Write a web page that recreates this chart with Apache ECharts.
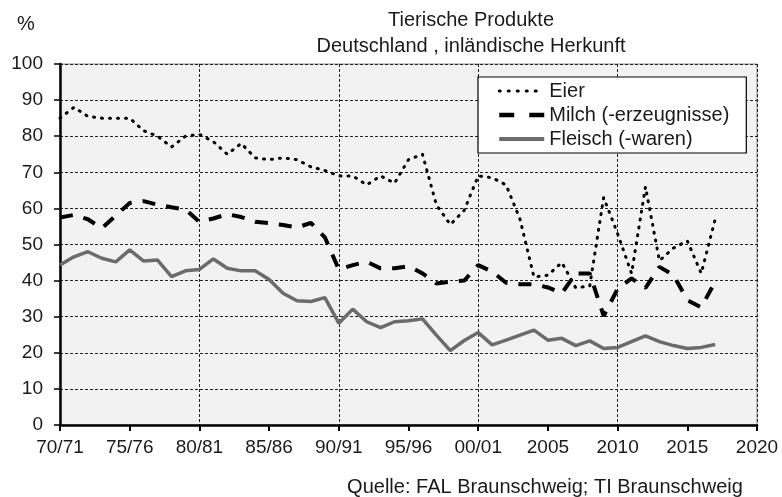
<!DOCTYPE html>
<html><head><meta charset="utf-8">
<script src="https://cdn.jsdelivr.net/npm/echarts@6/dist/echarts.min.js"></script>
<style>html,body{margin:0;padding:0;background:#fff}#c{width:782px;height:497px}</style>
</head><body><div id="c"></div>
<script>
const years = [1970,1971,1972,1973,1974,1975,1976,1977,1978,1979,
  1980,1981,1982,1983,1984,1985,1986,1987,1988,1989,
  1990,1991,1992,1993,1994,1995,1996,1997,1998,1999,
  2000,2001,2002,2003,2004,2005,2006,2007,2008,2009,
  2010,2011,2012,2013,2014,2015,2016,2017];
const eier = [85,88,85.5,85,85,85,81.5,80,77,80,
  80.5,78.5,75,78,74,73.5,74,73.5,71.5,70.5,
  69,69,66.5,69,67,73.5,75,61,55.5,59.5,
  69,68.5,66.5,57,41,41.5,45,38,38.5,63,
  53,42,66,45.5,49,51,42,57];
const milch = [57.5,58.2,57,54.5,58,61.5,62,61,60.3,59.7,
  56.3,57.2,58.4,57.6,56.3,55.9,55.4,54.7,56,52,
  43.1,44.3,45.2,43.4,43.4,44,42,39.2,39.7,40,
  44.3,42.5,39.4,39,39,38.1,36.5,42,42,30.2,
  37.7,40.6,38,43.8,41.6,34.6,32.6,39.7];
const fleisch = [44.3,46.6,48,46.2,45.2,48.5,45.4,45.7,41.1,42.7,
  43.1,46,43.4,42.7,42.7,40.3,36.5,34.4,34.2,35.3,
  28.2,32.1,28.6,27,28.6,28.9,29.4,24.9,20.6,23.4,
  25.6,22.2,23.5,24.9,26.3,23.5,24,22,23.3,21.2,
  21.5,23.1,24.7,23.1,22,21.2,21.5,22.3];
const seriesNames = ['Eier', 'Milch (-erzeugnisse)', 'Fleisch (-waren)'];
const tickYears = [1970,1975,1980,1985,1990,1995,2000,2005,2010,2015,2020];
const tickLabels = ['70/71','75/76','80/81','85/86','90/91','95/96','00/01','2005','2010','2015','2020'];
const titleLines = ['Tierische Produkte', 'Deutschland , inländische Herkunft'];
const unitLabel = '%';
const sourceText = 'Quelle: FAL Braunschweig; TI Braunschweig';

const FONT = '"Liberation Sans", Arial, sans-serif';
const TXT = '#1a1a1a';
const pairs = arr => years.map((y, i) => [y, arr[i]]);

function txt(t, x, y, size, align) {
  return {type:'text', x:x, y:y, silent:true,
    style:{text:t, font: size + 'px ' + FONT, fill:TXT,
      align: align, textAlign: align, verticalAlign:'middle', textVerticalAlign:'middle'}};
}

const styles = [
  {color:'#000', width:3, type:[1,7], cap:'round'},
  {color:'#000', width:4, type:[13,11], cap:'butt'},
  {color:'#6b6b6b', width:3.5, type:'solid', cap:'butt'}
];
const legendStyles = [
  {color:'#000', width:3, type:[1,8], cap:'round'},
  {color:'#000', width:4.5, type:[15,15], cap:'butt'},
  {color:'#6b6b6b', width:4, type:'solid', cap:'butt'}
];

const chart = echarts.init(document.getElementById('c'));
chart.setOption({
  animation:false,
  backgroundColor:'#fff',
  textStyle:{fontFamily:FONT},
  grid:{left:60, right:25, top:64, bottom:72, show:true, backgroundColor:'#f2f2f2', borderColor:'#8a8a8a', borderWidth:1},
  graphic:[
    txt(unitLabel, 26, 24, 20, 'center'),
    txt(titleLines[0], 471, 20, 20, 'center'),
    txt(titleLines[1], 471, 46, 20, 'center'),
    txt(sourceText, 545, 487, 20, 'center')
  ],
  legend:{
    orient:'vertical', left:478, top:77,
    padding:[4,17,4,19], itemGap:4, itemWidth:45, itemHeight:14,
    backgroundColor:'#fff', borderColor:'#000', borderWidth:1.2, borderRadius:0,
    itemStyle:{opacity:0},
    textStyle:{fontSize:20, color:TXT, fontFamily:FONT},
    data: seriesNames.map((n, i) => ({name:n, lineStyle:legendStyles[i]}))
  },
  xAxis:[{
    type:'value', min:1970, max:2020, interval:5,
    axisLine:{show:true, onZero:false, lineStyle:{color:'#000', width:2.5}},
    axisTick:{show:true, length:6, lineStyle:{color:'#000', width:2}},
    axisLabel:{fontSize:19, color:TXT, margin:13, fontFamily:FONT,
      formatter: v => { const i = tickYears.indexOf(v); return i >= 0 ? tickLabels[i] : ''; }},
    splitLine:{show:false}
  },{
    type:'value', min:1970, max:2020, interval:10, position:'top',
    axisLine:{show:false}, axisTick:{show:false}, axisLabel:{show:false},
    splitLine:{show:true, lineStyle:{color:'#222', width:1, type:[3,2]}}
  }],
  yAxis:{
    type:'value', min:0, max:100, interval:10,
    axisLine:{show:true, lineStyle:{color:'#000', width:2.5}},
    axisTick:{show:true, length:6, lineStyle:{color:'#000', width:1.5}},
    axisLabel:{fontSize:19, color:TXT, margin:17, fontFamily:FONT},
    splitLine:{show:true, lineStyle:{color:'#222', width:1, type:[3,2]}}
  },
  series:[
    {name:seriesNames[0], type:'line', data:pairs(eier), symbol:'none', z:3,
      lineStyle:styles[0], itemStyle:{color:'#000'}},
    {name:seriesNames[1], type:'line', data:pairs(milch), symbol:'none', z:4,
      lineStyle:styles[1], itemStyle:{color:'#000'}},
    {name:seriesNames[2], type:'line', data:pairs(fleisch), symbol:'none', z:5,
      lineStyle:styles[2], itemStyle:{color:'#6b6b6b'}}
  ]
});
</script>
</body></html>
